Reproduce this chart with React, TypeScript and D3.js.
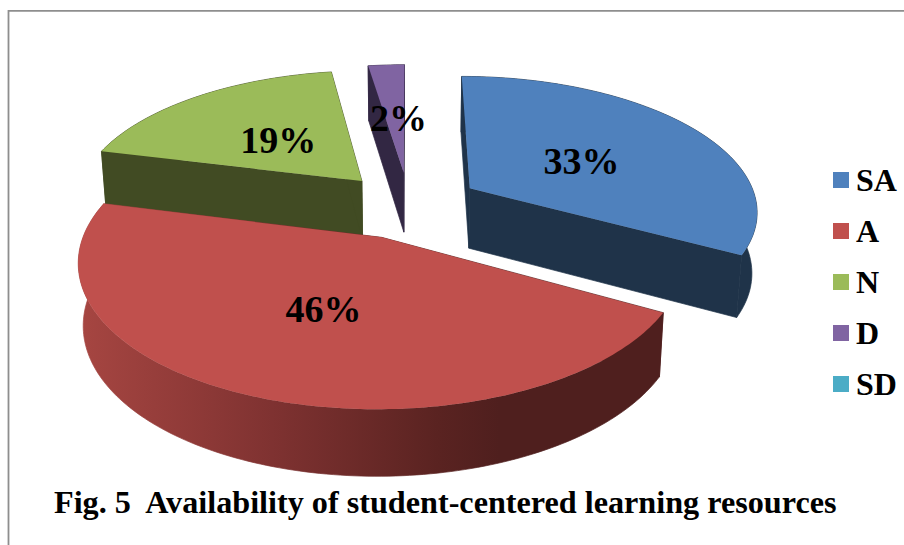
import React from "react";
import * as d3 from "d3";

const categories = ["SA", "A", "N", "D", "SD"];
const shares = [33.0, 45.9, 18.7, 2.4, 0];
const topColors = ["#4F81BD", "#C0504D", "#9BBB59", "#8064A2", "#4BACC6"];
const wallColors = ["#1F3349", "url(#redWall)", "#414B23", "#322743", "#1E4D5A"];
const paintOrder = ["D", "N", "SA", "A"];
const titleText = "Fig. 5  Availability of student-centered learning resources";

const W = 904;
const H = 545;
const FONT = "'Liberation Serif', 'Times New Roman', serif";

// perspective model of the pie disc
const cx = 409, cy = 205, A = 288, B = 134, k = 0.155;
const depth = 60.5, kDepth = 0.0794, shrink = 0.985;
const explode = 0.25;
const labelNudge: Record<string, [number, number]> = {
  SA: [-3, 1],
  A: [3, -4],
  N: [3, 0],
  D: [4, 0],
};

type P = [number, number];
const projectTop = (X: number, Y: number): P => {
  const w = 1 - k * Y;
  return [cx + (A * X) / w, cy + (B * Y) / w];
};
const projectBottom = (X: number, Y: number): P => {
  const [sx, sy] = projectTop(X, Y);
  return [cx + (sx - cx) * shrink, sy + depth / (1 - kDepth * Y)];
};

const pieGen = d3
  .pie<number>()
  .sort(null)
  .startAngle(0)
  .endAngle(2 * Math.PI);
const arcs = pieGen(shares);
const line = d3.line<P>();
const colour = d3.scaleOrdinal<string, string>().domain(categories).range(topColors);
const wallColour = d3.scaleOrdinal<string, string>().domain(categories).range(wallColors);
const legendY = d3.scaleLinear().domain([0, 4]).range([172, 376]);
const pct = d3.format(".0%");

function rim(a0: number, a1: number, ox: number, oy: number): P[] {
  const steps = Math.max(4, Math.ceil((a1 - a0) / 0.02));
  return d3.range(steps + 1).map((i) => {
    const t = a0 + ((a1 - a0) * i) / steps;
    return [ox + Math.sin(t), oy - Math.cos(t)] as P;
  });
}

export default function App() {
  const slices = paintOrder.map((name) => {
    const i = categories.indexOf(name);
    const a = arcs[i];
    const mid = (a.startAngle + a.endAngle) / 2;
    const ox = explode * Math.sin(mid);
    const oy = -explode * Math.cos(mid);
    const world = rim(a.startAngle, a.endAngle, ox, oy);
    const top = [projectTop(ox, oy), ...world.map((p) => projectTop(p[0], p[1]))];
    const outer = [
      ...world.map((p) => projectTop(p[0], p[1])),
      ...world.map((p) => projectBottom(p[0], p[1])).reverse(),
    ];
    const first = world[0];
    const last = world[world.length - 1];
    const edge = (e: P) => [
      projectTop(ox, oy),
      projectTop(e[0], e[1]),
      projectBottom(e[0], e[1]),
      projectBottom(ox, oy),
    ] as P[];
    const lab = projectTop(ox + 0.5 * Math.sin(mid), oy - 0.5 * Math.cos(mid));
    return {
      name,
      top,
      outer,
      side0: edge(first),
      side1: edge(last),
      lab: [lab[0] + labelNudge[name][0], lab[1] + labelNudge[name][1]] as P,
      text: pct(shares[i] / 100),
    };
  });

  return (
    <svg
      width={W}
      height={H}
      viewBox={`0 0 ${W} ${H}`}
      style={{ position: "absolute", left: 0, top: 0, background: "#fff", fontFamily: FONT }}
    >
      <defs>
        <linearGradient id="redWall" gradientUnits="userSpaceOnUse" x1="85" y1="0" x2="500" y2="0">
          <stop offset="0" stopColor="#A54541" />
          <stop offset="0.45" stopColor="#7F3231" />
          <stop offset="0.85" stopColor="#5A2321" />
          <stop offset="1" stopColor="#4F1F1E" />
        </linearGradient>
      </defs>
      <path d={`M8.5 ${H} V10.8 H${W}`} fill="none" stroke="#8E8E8E" strokeWidth={1.8} />
      {slices.map((s) => (
        <g key={s.name}>
          <path d={line(s.outer) + "Z"} fill={wallColour(s.name)} stroke={wallColour(s.name)} strokeWidth={0.7} />
          <path d={line(s.side0) + "Z"} fill={wallColour(s.name)} stroke={wallColour(s.name)} strokeWidth={0.7} />
          <path d={line(s.side1) + "Z"} fill={wallColour(s.name)} stroke={wallColour(s.name)} strokeWidth={0.7} />
          <path d={line(s.top) + "Z"} fill={colour(s.name)} />
        </g>
      ))}
      {slices.map((s) => (
        <text
          key={s.name}
          x={s.lab[0]}
          y={s.lab[1] + 16}
          textAnchor="middle"
          fontSize={38}
          fontWeight="bold"
          fill="#000"
        >
          {s.text}
        </text>
      ))}
      {categories.map((c, i) => (
        <g key={c}>
          <rect x={833} y={legendY(i)} width={16} height={16} fill={colour(c)} />
          <text x={856} y={legendY(i) + 18.5} fontSize={32} fontWeight="bold" fill="#000">
            {c}
          </text>
        </g>
      ))}
      <text
        x={54}
        y={513}
        fontSize={32.2}
        fontWeight="bold"
        fill="#000"
        style={{ whiteSpace: "pre" }}
      >
        {titleText}
      </text>
    </svg>
  );
}
